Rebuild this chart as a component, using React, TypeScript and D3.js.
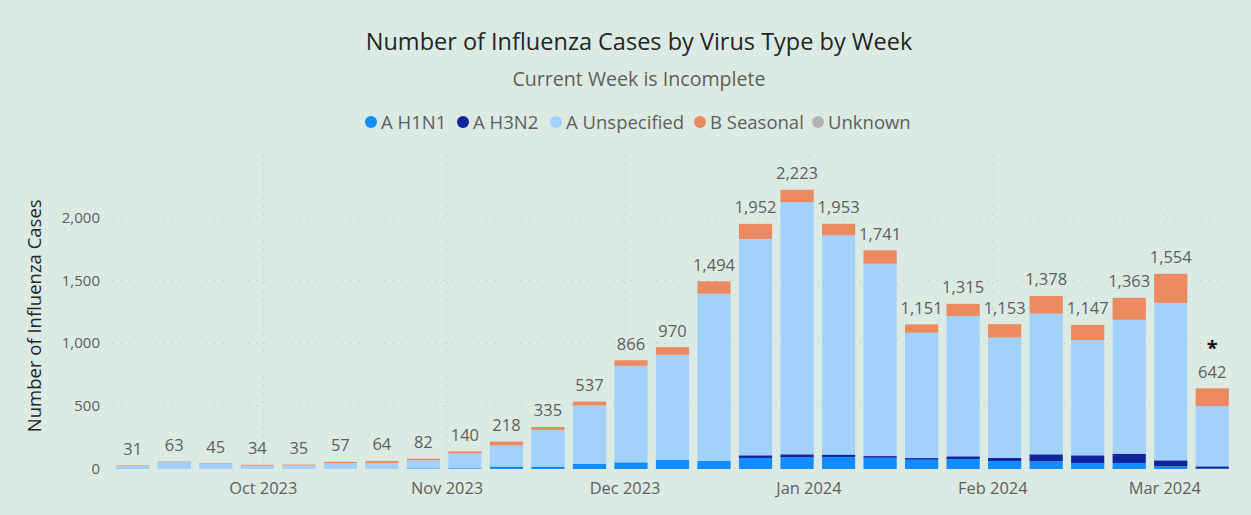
import { useMemo } from 'react'
import * as d3 from 'd3'

const W = 1251
const H = 515
const BG = '#dbebe4'
const FONT = "'Segoe UI', 'Open Sans', sans-serif"

// week-ending dates (Saturdays)
const weeks = [
  '2023-09-09', '2023-09-16', '2023-09-23', '2023-09-30', '2023-10-07', '2023-10-14',
  '2023-10-21', '2023-10-28', '2023-11-04', '2023-11-11', '2023-11-18', '2023-11-25',
  '2023-12-02', '2023-12-09', '2023-12-16', '2023-12-23', '2023-12-30', '2024-01-06',
  '2024-01-13', '2024-01-20', '2024-01-27', '2024-02-03', '2024-02-10', '2024-02-17',
  '2024-02-24', '2024-03-02', '2024-03-09',
]

const h1n1 = [0, 0, 0, 0, 0, 0, 2, 5, 6, 20, 20, 42, 53, 74, 64, 88, 93, 96, 90, 74, 80, 64, 61, 48, 48, 21, 3]
const h3n2 = [0, 0, 0, 0, 0, 0, 0, 0, 0, 0, 0, 0, 0, 0, 0, 21, 24, 19, 13, 13, 21, 24, 56, 61, 74, 48, 18]
const aUnspecified = [27, 60, 40, 27, 28, 47, 46, 65, 118, 168, 291, 463, 768, 835, 1332, 1723, 2008, 1745, 1532, 998, 1116, 959, 1120, 918, 1066, 1254, 480]
const bSeasonal = [4, 3, 5, 7, 7, 10, 16, 12, 16, 30, 24, 32, 45, 61, 98, 120, 98, 93, 106, 66, 98, 106, 141, 120, 175, 231, 141]
const unknown = [0, 0, 0, 0, 0, 0, 0, 0, 0, 0, 0, 0, 0, 0, 0, 0, 0, 0, 0, 0, 0, 0, 0, 0, 0, 0, 0]

const seriesNames = ['A H1N1', 'A H3N2', 'A Unspecified', 'B Seasonal', 'Unknown']
const seriesColors = ['#118dff', '#12239e', '#a3d1fd', '#eb895f', '#b3b3b3']
const yTicks = [0, 500, 1000, 1500, 2000]

const M = { left: 112, right: 18, top: 155, bottom: 46 }

export default function App() {
  const parse = d3.timeParse('%Y-%m-%d')
  const dates = weeks.map((w) => parse(w) as Date)

  const rows = useMemo(
    () =>
      weeks.map((w, i) => ({
        week: w,
        'A H1N1': h1n1[i],
        'A H3N2': h3n2[i],
        'A Unspecified': aUnspecified[i],
        'B Seasonal': bSeasonal[i],
        Unknown: unknown[i],
      })),
    []
  )
  const stacked = d3.stack<any>().keys(seriesNames)(rows)
  const totals = rows.map((_, i) => h1n1[i] + h3n2[i] + aUnspecified[i] + bSeasonal[i] + unknown[i])

  const halfWeek = 3.5 * 24 * 3600 * 1000
  const x = d3
    .scaleTime()
    .domain([new Date(+dates[0] - halfWeek), new Date(+dates[dates.length - 1] + halfWeek)])
    .range([M.left, W - M.right])
  const step = x(dates[1]) - x(dates[0])
  const barW = step * 0.8

  const y = d3.scaleLinear().domain([0, 2500]).range([H - M.bottom, M.top])
  const monthTicks = x.ticks(d3.timeMonth.every(1) as any)
  const fmtMonth = d3.timeFormat('%b %Y')
  const fmt = d3.format(',')

  // legend layout
  const legendItems = [
    { name: 'A H1N1', cx: 371 },
    { name: 'A H3N2', cx: 463 },
    { name: 'A Unspecified', cx: 556 },
    { name: 'B Seasonal', cx: 700 },
    { name: 'Unknown', cx: 818 },
  ]

  const last = dates.length - 1

  return (
    <svg
      width={W}
      height={H}
      style={{ position: 'absolute', left: 0, top: 0, background: BG, fontFamily: FONT }}
    >
      <rect width={W} height={H} fill={BG} />

      <text x={639} y={50} textAnchor="middle" fontSize={23.5} fill="#252423">
        Number of Influenza Cases by Virus Type by Week
      </text>
      <text x={639} y={86} textAnchor="middle" fontSize={19.6} fill="#605e5c">
        Current Week is Incomplete
      </text>

      {/* Legend */}
      {legendItems.map((it, i) => (
        <g key={it.name}>
          <circle cx={it.cx} cy={122} r={6} fill={seriesColors[i]} />
          <text x={it.cx + 10} y={128.5} fontSize={18.5} fill="#605e5c">
            {it.name}
          </text>
        </g>
      ))}

      {/* Gridlines */}
      {yTicks.slice(1).map((t) => (
        <line
          key={t}
          x1={M.left}
          x2={W - M.right}
          y1={y(t)}
          y2={y(t)}
          stroke="#c2ccc7"
          strokeWidth={1}
          strokeDasharray="1.5 7"
        />
      ))}
      {monthTicks.map((d) => (
        <line
          key={+d}
          x1={x(d)}
          x2={x(d)}
          y1={M.top}
          y2={y(0)}
          stroke="#c2ccc7"
          strokeWidth={1}
          strokeDasharray="1.5 7"
        />
      ))}

      {/* Y axis */}
      {yTicks.map((t) => (
        <text key={t} x={100} y={y(t) + 5} textAnchor="end" fontSize={15} fill="#605e5c">
          {fmt(t)}
        </text>
      ))}
      <text
        transform={`translate(41, ${y(1220)}) rotate(-90)`}
        textAnchor="middle"
        fontSize={18.5}
        fill="#252423"
      >
        Number of Influenza Cases
      </text>

      {/* X axis */}
      {monthTicks.map((d) => (
        <text key={+d} x={x(d)} y={494} textAnchor="middle" fontSize={16.4} fill="#605e5c">
          {fmtMonth(d)}
        </text>
      ))}

      {/* Bars */}
      {stacked.map((layer, si) => (
        <g key={layer.key} fill={seriesColors[si]}>
          {layer.map((seg, i) => {
            const h = y(seg[0]) - y(seg[1])
            if (h <= 0) return null
            return (
              <rect
                key={i}
                x={x(dates[i]) - barW / 2}
                y={y(seg[1])}
                width={barW}
                height={h}
              />
            )
          })}
        </g>
      ))}

      {/* Data labels */}
      {totals.map((t, i) => (
        <text
          key={i}
          x={x(dates[i])}
          y={y(t) - 10.5}
          textAnchor="middle"
          fontSize={16.5}
          fill="#605e5c"
        >
          {fmt(t)}
        </text>
      ))}
      <text
        x={x(dates[last])}
        y={y(totals[last]) - 33}
        textAnchor="middle"
        fontSize={20}
        fontWeight="bold"
        fill="#111"
      >
        *
      </text>
    </svg>
  )
}
